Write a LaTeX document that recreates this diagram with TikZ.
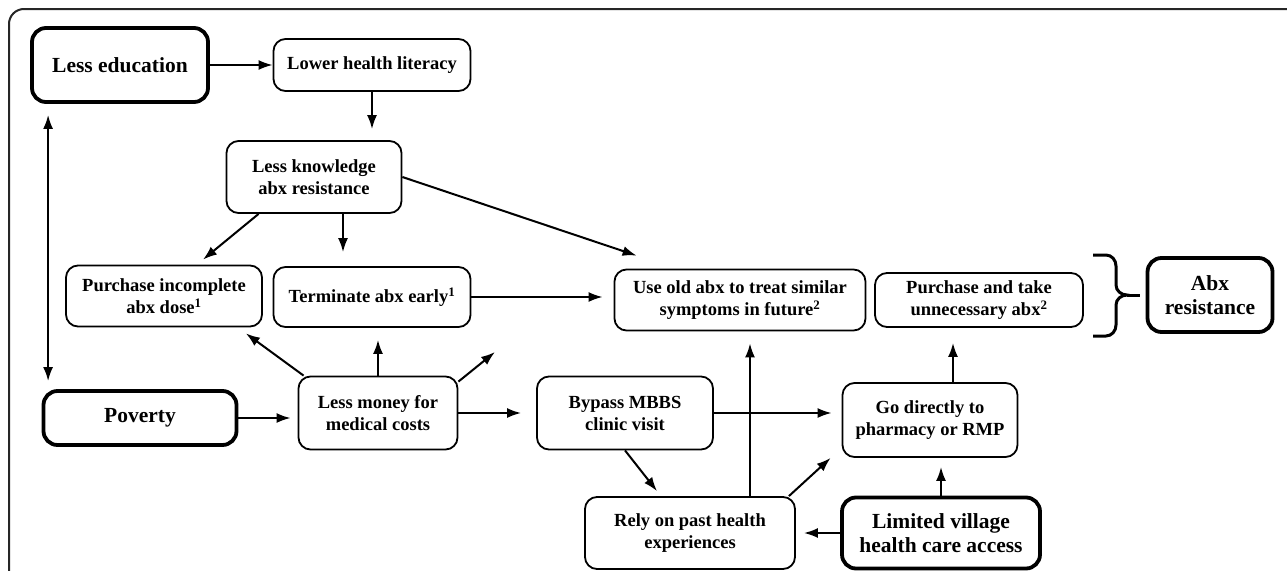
\documentclass[tikz,border=0pt]{standalone}
\usepackage{fontspec}
\setmainfont{Liberation Serif}
\usepackage{tikz}
\usetikzlibrary{arrows.meta,calc}

\tikzset{
	box/.style={draw, rounded corners=12pt, line width=1.8pt, align=center,
		font=\fontsize{18.5}{22}\selectfont\bfseries, inner sep=2pt},
	bigbox/.style={box, line width=3.8pt, rounded corners=14pt,
		font=\fontsize{21.5}{24}\selectfont\bfseries},
	arr/.style={-{Latex[length=14pt,width=10pt]}, line width=2pt},
}

\begin{document}
\begin{tikzpicture}[x=1pt,y=-1pt]
	\useasboundingbox (0,0) rectangle (1287,570);
	% frame, cut at the right and bottom
	\draw[line width=2pt, color=black!85, rounded corners=15pt] (9,580) -- (9,9) -- (1300,9);

	\node[bigbox, minimum width=176pt, minimum height=74pt] (lessedu) at (120,65) {Less education};
	\node[box, minimum width=197pt, minimum height=52pt] (lowerlit) at (372,65) {Lower health literacy};
	\node[box, minimum width=175pt, minimum height=72pt] (lessknow) at (314,177) {Less knowledge\\abx resistance};
	\node[box, minimum width=196pt, minimum height=61pt] (purinc) at (164,296) {Purchase incomplete\\abx dose\textsuperscript{1}};
	\node[box, minimum width=197pt, minimum height=60pt] (term) at (372,297) {Terminate abx early\textsuperscript{1}};
	\node[box, minimum width=251pt, minimum height=61pt] (useold) at (740,300) {Use old abx to treat similar\\symptoms in future\textsuperscript{2}};
	\node[box, minimum width=208pt, minimum height=54pt] (purtake) at (979,300) {Purchase and take\\unnecessary abx\textsuperscript{2}};
	\node[bigbox, minimum width=125pt, minimum height=74pt] (abxres) at (1210,295) {Abx\\resistance};
	\node[bigbox, minimum width=193pt, minimum height=54pt] (poverty) at (140,418) {Poverty};
	\node[box, minimum width=159pt, minimum height=73pt] (lessmoney) at (378,413) {Less money for\\medical costs};
	\node[box, minimum width=176pt, minimum height=73pt] (bypass) at (625,413) {Bypass MBBS\\clinic visit};
	\node[box, minimum width=175pt, minimum height=74pt] (godirect) at (930,420) {Go directly to\\pharmacy or RMP};
	\node[box, minimum width=210pt, minimum height=72pt] (rely) at (690,533) {Rely on past health\\experiences};
	\node[bigbox, minimum width=198pt, minimum height=71pt] (limited) at (941,533) {Limited village\\health care access};

	\coordinate (eduleft) at ([xshift=18pt]lessedu.south west);
	\coordinate (relyup) at ([xshift=60pt]rely.north);
	\coordinate (goup) at ([xshift=23pt]godirect.north);
	\coordinate (moneyend) at (495,352);

	\draw[arr] (lessedu) -- (lowerlit);
	\draw[arr, shorten >=11pt] (lowerlit.south) -- (lowerlit.south |- lessknow.north);
	\draw[arr, shorten <=11pt, shorten >=8pt, {Latex[length=14pt,width=10pt]}-{Latex[length=14pt,width=10pt]}] (eduleft) -- (eduleft |- poverty.north);
	\draw[arr] ([xshift=33pt]lessknow.south west) -- ([xshift=39pt,yshift=5pt]purinc.north);
	\draw[arr] ([xshift=29pt]lessknow.south) -- ([xshift=-29pt,yshift=14pt]term.north);
	\draw[arr] (lessknow.east) -- ([xshift=23pt,yshift=13pt]useold.north west);
	\draw[arr, shorten >=11pt] (term.east) -- (term.east -| useold.west);
	\draw[arr, shorten >=7pt] (poverty.east) -- (poverty.east -| lessmoney.west);
	\draw[arr] ([xshift=6pt]lessmoney.north west) -- ([xshift=-17pt,yshift=-6pt]purinc.south east);
	\draw[arr, shorten >=12pt] (lessmoney.north) -- (lessmoney.north |- term.south);
	\draw[arr] ([yshift=-6pt]lessmoney.north east) -- (moneyend);
	\draw[arr, shorten >=15pt] (lessmoney.east) -- (bypass.west);
	\draw[arr, shorten >=10pt] (bypass.east) -- (bypass.east -| godirect.west);
	\draw[arr] (bypass.south) -- ([xshift=-33pt,yshift=5pt]rely.north);
	\draw[arr, shorten >=12pt] (relyup) -- (relyup |- useold.south);
	\draw[arr] ([xshift=-7pt]rely.north east) -- ([xshift=-11pt]godirect.south west);
	\draw[arr, shorten >=8pt] (limited.west) -- (rely.east);
	\draw[arr, shorten >=9pt] (limited.north) -- (limited.north |- godirect.south);
	\draw[arr, shorten >=15pt] (goup) -- (goup |- purtake.south);

	% brace to the result
	\draw[line width=3pt] (1093,255) -- (1106,255) to[out=0,in=90] (1116,266) -- (1116,285)
		to[out=-90,in=180] (1127,295) to[out=180,in=90] (1116,305) -- (1116,325)
		to[out=-90,in=0] (1106,336) -- (1093,336);
	\draw[line width=3pt] (1127,295) -- (1140,295);
\end{tikzpicture}
\end{document}
